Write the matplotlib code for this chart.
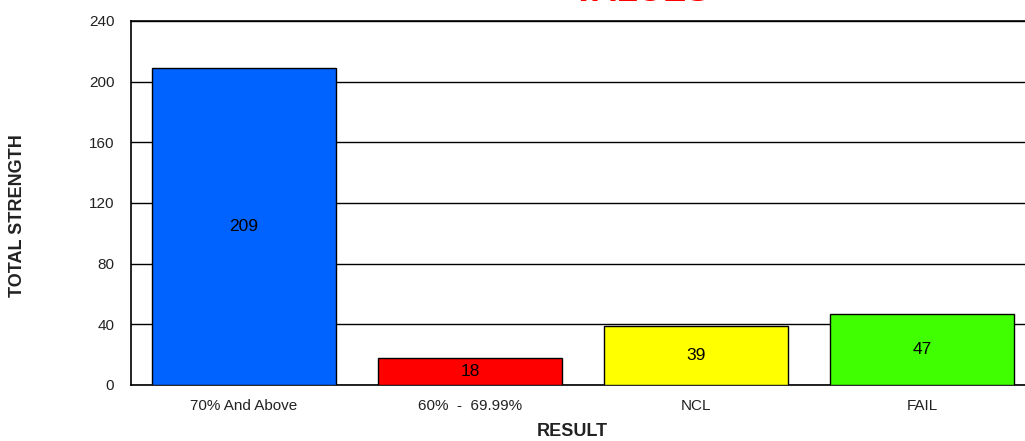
import matplotlib.pyplot as plt

plt.rcParams['font.family'] = ['Liberation Sans', 'DejaVu Sans']

categories = ["70% And Above", "60%  -  69.99%", "NCL", "FAIL"]
values = [209, 18, 39, 47]
colors = ["#0062FF", "#FF0000", "#FFFF00", "#40FF00"]
yticks = [0, 40, 80, 120, 160, 200, 240]

fig = plt.figure(figsize=(10.25, 4.41), dpi=100)
ax = fig.add_axes([131/1025, 1 - 385/441, 904/1025, 364/441])

x = range(len(categories))
bars = ax.bar(x, values, width=0.81, color=colors, edgecolor="black", linewidth=1.0, zorder=3)
for b, v in zip(bars, values):
    ax.text(b.get_x() + b.get_width()/2, v/2, str(v), ha="center", va="center",
            fontsize=12.5, color="black", zorder=4)

ax.set_xlim(-0.5, 3.5)
ax.set_ylim(0, 240)
ax.set_yticks(yticks)
ax.yaxis.grid(True, color="black", linewidth=1.0, zorder=0)
ax.set_axisbelow(True)
ax.set_xticks(list(x))
ax.set_xticklabels(categories)
ax.tick_params(axis="both", length=0, labelsize=11, labelcolor="#222222")
ax.tick_params(axis="x", pad=10)
ax.tick_params(axis="y", pad=12)
for s in ax.spines.values():
    s.set_linewidth(1.2)

fig.text(18/1025, 1 - 216/441, "TOTAL STRENGTH", rotation=90, ha="center", va="center",
         fontsize=13, fontweight="bold", color="#222222")
fig.text(572/1025, 1 - 431/441, "RESULT", ha="center", va="center",
         fontsize=13, fontweight="bold", color="#222222")
fig.text(641/1025, 1 - 8/441, "VALUES", ha="center", va="bottom",
         fontsize=25, fontweight="bold", color="#FF0000")

fig.savefig("out.png", dpi=100)
